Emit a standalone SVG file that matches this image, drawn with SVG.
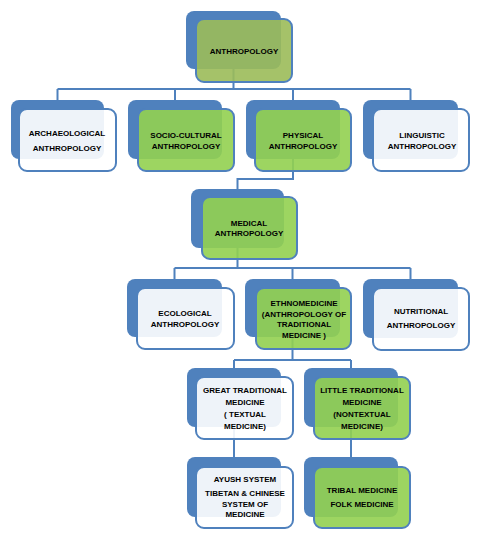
<svg xmlns="http://www.w3.org/2000/svg" width="484" height="542" viewBox="0 0 484 542">
<style>
.back{fill:#4f81bd}
.front{stroke:#4f81bd;stroke-width:2;fill-opacity:0.9}
.w{fill:#ffffff}
.g{fill:#92d050}
.o{fill:#9bbb59}
.conn{fill:none;stroke:#4f81bd;stroke-width:2}
text{font-family:"Liberation Sans",Arial,sans-serif;font-weight:bold;font-size:8px;fill:#000;text-anchor:middle}
</style>
<rect width="484" height="542" fill="#fff"/>
<g id="connectors">
<path class="conn" d="M233.5,69V89M57.5,89H410.5M57.5,89V100M175,89V100M293,89V100M410.5,89V100"/>
<path class="conn" d="M293,159V179H237.5V189"/>
<path class="conn" d="M237.5,248V268M174.5,268H410.5M174.5,268V279M292.5,268V279M410.5,268V279"/>
<path class="conn" d="M292.5,337V360M234,360H351M234,360V368M351,360V368"/>
<path class="conn" d="M234,427V457M351,427V457"/>
</g>
<g id="anthropology">
<rect class="back" x="186" y="11" width="95" height="58" rx="8"/>
<rect class="front o" x="196" y="19" width="96" height="63" rx="8"/>
<text x="244" y="54">ANTHROPOLOGY</text>
</g>
<g id="archaeological">
<rect class="back" x="11" y="100" width="93" height="59" rx="8"/>
<rect class="front w" x="19" y="109" width="97" height="62" rx="8"/>
<text x="67" y="136">ARCHAEOLOGICAL</text>
<text x="67" y="151">ANTHROPOLOGY</text>
</g>
<g id="socio-cultural">
<rect class="back" x="128" y="100" width="94" height="59" rx="8"/>
<rect class="front g" x="138" y="109" width="96" height="62" rx="8"/>
<text x="186" y="138">SOCIO-CULTURAL</text>
<text x="186" y="149">ANTHROPOLOGY</text>
</g>
<g id="physical">
<rect class="back" x="246" y="100" width="94" height="59" rx="8"/>
<rect class="front g" x="255" y="109" width="96" height="62" rx="8"/>
<text x="303" y="138">PHYSICAL</text>
<text x="303" y="149">ANTHROPOLOGY</text>
</g>
<g id="linguistic">
<rect class="back" x="363" y="100" width="95" height="59" rx="8"/>
<rect class="front w" x="373" y="109" width="96" height="62" rx="8"/>
<text x="422" y="138">LINGUISTIC</text>
<text x="422" y="149">ANTHROPOLOGY</text>
</g>
<g id="medical">
<rect class="back" x="191" y="189" width="93" height="59" rx="8"/>
<rect class="front g" x="202" y="197" width="95" height="62" rx="8"/>
<text x="249" y="226">MEDICAL</text>
<text x="249" y="236">ANTHROPOLOGY</text>
</g>
<g id="ecological">
<rect class="back" x="127" y="279" width="95" height="58" rx="8"/>
<rect class="front w" x="137" y="288" width="97" height="61" rx="8"/>
<text x="185" y="316">ECOLOGICAL</text>
<text x="185" y="327">ANTHROPOLOGY</text>
</g>
<g id="ethnomedicine">
<rect class="back" x="245" y="279" width="95" height="58" rx="8"/>
<rect class="front g" x="256" y="288" width="95" height="61" rx="8"/>
<text x="304" y="306">ETHNOMEDICINE</text>
<text x="304" y="317">(ANTHROPOLOGY OF</text>
<text x="304" y="327">TRADITIONAL</text>
<text x="304" y="338">MEDICINE )</text>
</g>
<g id="nutritional">
<rect class="back" x="363" y="279" width="95" height="59" rx="8"/>
<rect class="front w" x="373" y="288" width="96" height="62" rx="8"/>
<text x="421" y="314">NUTRITIONAL</text>
<text x="421" y="328">ANTHROPOLOGY</text>
</g>
<g id="great-traditional">
<rect class="back" x="187" y="368" width="94" height="59" rx="8"/>
<rect class="front w" x="196" y="377" width="97" height="62" rx="8"/>
<text x="245" y="393">GREAT TRADITIONAL</text>
<text x="245" y="405">MEDICINE</text>
<text x="245" y="417">( TEXTUAL</text>
<text x="245" y="429">MEDICINE)</text>
</g>
<g id="little-traditional">
<rect class="back" x="304" y="368" width="94" height="59" rx="8"/>
<rect class="front g" x="314" y="377" width="96" height="62" rx="8"/>
<text x="362" y="393">LITTLE TRADITIONAL</text>
<text x="362" y="405">MEDICINE</text>
<text x="362" y="417">(NONTEXTUAL</text>
<text x="362" y="429">MEDICINE)</text>
</g>
<g id="ayush">
<rect class="back" x="187" y="457" width="94" height="60" rx="8"/>
<rect class="front w" x="196" y="467" width="97" height="61" rx="8"/>
<text x="245" y="482">AYUSH SYSTEM</text>
<text x="245" y="496">TIBETAN &amp; CHINESE</text>
<text x="245" y="507">SYSTEM OF</text>
<text x="245" y="517">MEDICINE</text>
</g>
<g id="tribal">
<rect class="back" x="304" y="457" width="94" height="60" rx="8"/>
<rect class="front g" x="314" y="467" width="96" height="61" rx="8"/>
<text x="362" y="493">TRIBAL MEDICINE</text>
<text x="362" y="507">FOLK MEDICINE</text>
</g>
</svg>
